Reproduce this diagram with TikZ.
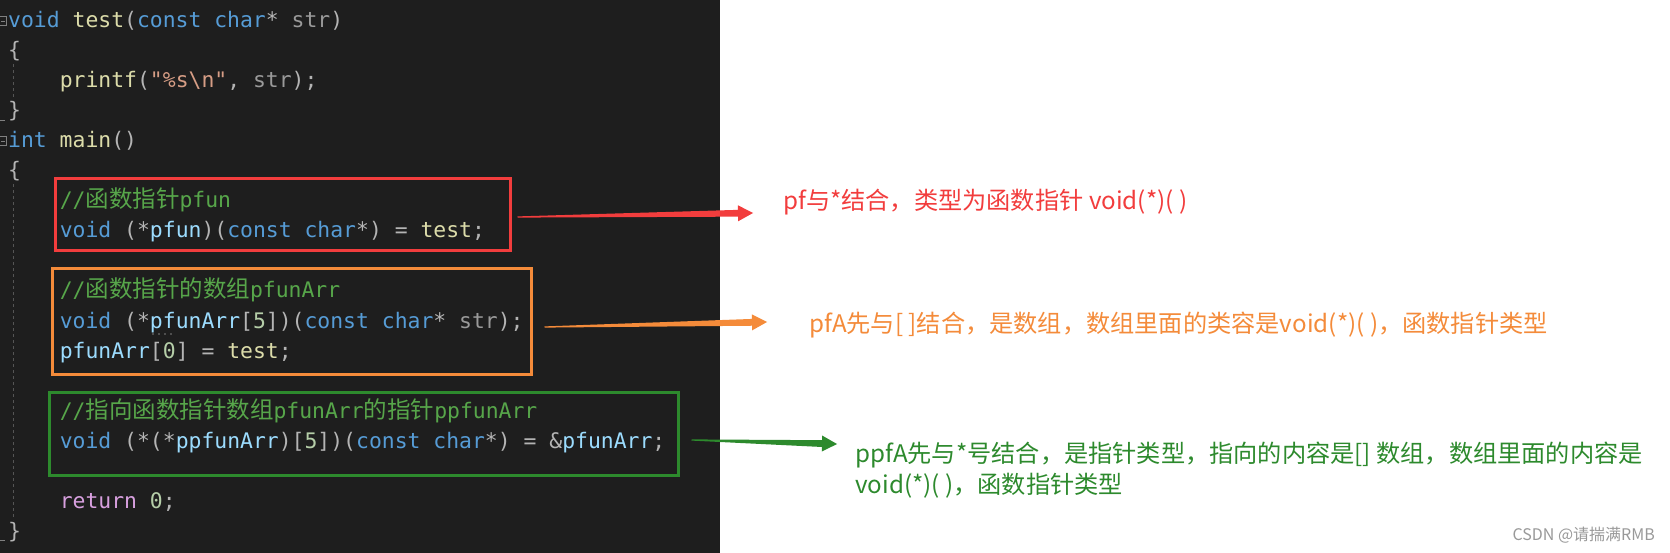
\documentclass[tikz,border=0pt]{standalone}
\usepackage{fontspec}
\usetikzlibrary{calc}
\setmonofont{DejaVu Sans Mono}
\newfontfamily\cjk{Noto Sans CJK SC}

\definecolor{editorbg}{HTML}{1E1E1E}
\definecolor{kwblue}{HTML}{569CD6}
\definecolor{fnyellow}{HTML}{DCDCAA}
\definecolor{parmgray}{HTML}{9A9A9A}
\definecolor{varblue}{HTML}{9CDCFE}
\definecolor{puncgray}{HTML}{B4B4B4}
\definecolor{strbrown}{HTML}{D69D85}
\definecolor{cmtgreen}{HTML}{57A64A}
\definecolor{numgreen}{HTML}{B5CEA8}
\definecolor{retpink}{HTML}{D8A0DF}
\definecolor{guidegray}{HTML}{555555}
\definecolor{notered}{HTML}{F23D3D}
\definecolor{noteorange}{HTML}{F48B3A}
\definecolor{notegreen}{HTML}{2D8A2D}

\newcommand\kw[1]{\textcolor{kwblue}{#1}}
\newcommand\fnc[1]{\textcolor{fnyellow}{#1}}
\newcommand\prm[1]{\textcolor{parmgray}{#1}}
\newcommand\cvar[1]{\textcolor{varblue}{#1}}
\newcommand\cstr[1]{\textcolor{strbrown}{#1}}
\newcommand\cmt[1]{\textcolor{cmtgreen}{#1}}
\newcommand\cnum[1]{\textcolor{numgreen}{#1}}
\newcommand\cret[1]{\textcolor{retpink}{#1}}
\newcommand\zh[1]{{\cjk\fontsize{23.5pt}{30pt}\selectfont #1}}

% thin line that gets thicker towards a triangle head
\newcommand\taperarrow[3]{%
  \coordinate (hb) at ($(#3)!15pt!(#2)$);
  \fill[#1] ($(#2)!0.6pt!90:(#3)$) -- ($(hb)!3.4pt!90:(#3)$) -- ($(hb)!8pt!90:(#3)$) -- (#3)
    -- ($(hb)!8pt!-90:(#3)$) -- ($(hb)!3.4pt!-90:(#3)$) -- ($(#2)!0.6pt!-90:(#3)$) -- cycle;
}

\begin{document}
\begin{tikzpicture}[x=1pt, y=-1pt,
    codeline/.style={anchor=base west, inner sep=0pt, text=puncgray,
      font={\ttfamily\fontsize{21.4pt}{30pt}\selectfont}},
    notebox/.style={draw=#1, line width=3pt, inner sep=0pt},
    note/.style={anchor=west, inner sep=0pt, align=left,
      font={\cjk\fontsize{24.2pt}{31pt}\selectfont}},
    guide/.style={guidegray, line width=1pt, dash pattern=on 3pt off 3pt},
    fold/.style={gray, line width=0.8pt}]
  \useasboundingbox (0,0) rectangle (1670,553);
  \fill[white] (0,0) rectangle (1670,553);
  \fill[editorbg] (0,0) rectangle (720,553);

  % gutter
  \begin{scope}[fold]
    \draw (-1,16.5) rectangle (6,25.5);
    \draw (1,21) -- (5,21);
    \draw (-1,136.5) rectangle (6,145.5);
    \draw (1,141) -- (5,141);
    \draw (0,120) -- (5,120);
    \draw (0,540) -- (5,540);
  \end{scope}
  \draw[guide] (13,64) -- (13,100);
  \draw[guide] (13,184) -- (13,520);

  % code
  \node[codeline] (l0) at (8,28) {\kw{void} \fnc{test}(\kw{const} \kw{char}* \prm{str})};
  \node[codeline] (l1) at (8,58) {\{};
  \node[codeline] (l2) at (59.6,88) {\fnc{printf}(\cstr{"\%s\textbackslash n"}, \prm{str});};
  \node[codeline] (l3) at (8,118) {\}};
  \node[codeline] (l4) at (8,148) {\kw{int} \fnc{main}()};
  \node[codeline] (l5) at (8,178) {\{};
  \node[codeline] (l6) at (59.6,208) {\cmt{//\zh{函数指针}pfun}};
  \node[codeline] (l7) at (59.6,238) {\kw{void} (*\cvar{pfun})(\kw{const} \kw{char}*) = \fnc{test};};
  \node[codeline] (l9) at (59.6,298) {\cmt{//\zh{函数指针的数组}pfunArr}};
  \node[codeline] (l10) at (59.6,328) {\kw{void} (*\cvar{pfunArr}[\cnum{5}])(\kw{const} \kw{char}* \prm{str});};
  \node[codeline] (l11) at (59.6,358) {\cvar{pfunArr}[\cnum{0}] = \fnc{test};};
  \node[codeline] (l13) at (59.6,418) {\cmt{//\zh{指向函数指针数组}pfunArr\zh{的指针}ppfunArr}};
  \node[codeline] (l14) at (59.6,448) {\kw{void} (*(*\cvar{ppfunArr})[\cnum{5}])(\kw{const} \kw{char}*) = \&\cvar{pfunArr};};
  \node[codeline] (l16) at (59.6,508) {\cret{return} \cnum{0};};
  \node[codeline] (l17) at (8,538) {\}};
  \foreach \dx in {153,159,165,171}
    \fill[gray] (\dx,334) circle (0.9pt);

  % boxes
  \node[notebox=notered, minimum width=455pt, minimum height=72pt] (pfunbox) at (282.5,215) {};
  \node[notebox=noteorange, minimum width=479pt, minimum height=105pt] (arrbox) at (291.5,321.5) {};
  \node[notebox=notegreen, minimum width=629pt, minimum height=83pt] (parrbox) at (363.5,433.5) {};

  % notes
  \node[note, text=notered] (pfnote) at (783,202) {pf与*结合，类型为函数指针 void(*)( )};
  \node[note, text=noteorange] (arrnote) at (809,325) {pfA先与[ ]结合，是数组，数组里面的类容是void(*)( )，函数指针类型};
  \node[note, text=notegreen] (parrnote) at (855,470.5) {ppfA先与*号结合，是指针类型，指向的内容是[] 数组，数组里面的内容是\\void(*)( )，函数指针类型};
  \node[anchor=east, inner sep=0pt, text=gray!80, font={\cjk\fontsize{16pt}{16pt}\selectfont}] (mark) at (1655,535) {CSDN @请揣满RMB};

  % arrows
  \coordinate (rs) at ([xshift=6pt,yshift=-2pt]pfunbox.east);
  \coordinate (re) at ([xshift=-30pt,yshift=-11pt]pfnote.west);
  \coordinate (os) at ([xshift=12pt,yshift=-5.5pt]arrbox.east);
  \coordinate (oe) at ([xshift=-42pt,yshift=3pt]arrnote.west);
  \coordinate (gs) at ([xshift=12pt,yshift=-6.5pt]parrbox.east);
  \coordinate (ge) at ([xshift=-18pt,yshift=26.5pt]parrnote.west);
  \taperarrow{notered}{rs}{re}
  \taperarrow{noteorange}{os}{oe}
  \taperarrow{notegreen}{gs}{ge}
\end{tikzpicture}
\end{document}
